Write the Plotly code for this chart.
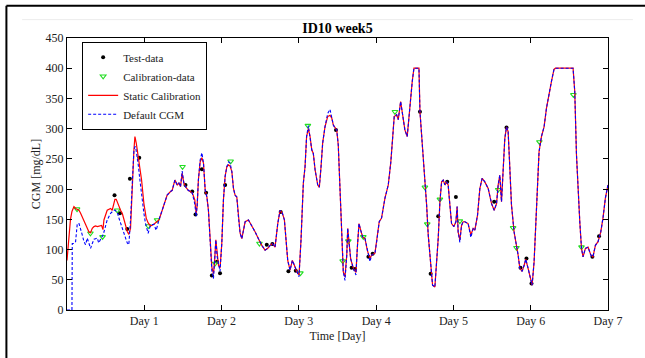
import plotly.graph_objects as go

# ---- data ----
time_days = [
    0, 0.012, 0.026, 0.045, 0.064, 0.068, 0.09, 0.111, 0.133, 0.155, 0.176, 0.198, 0.22, 0.24,
    0.262, 0.284, 0.305, 0.327, 0.349, 0.37, 0.392, 0.41, 0.447, 0.465, 0.478, 0.52, 0.564,
    0.585, 0.607, 0.62, 0.637, 0.65, 0.672, 0.693, 0.715, 0.736, 0.758, 0.78, 0.792, 0.80,
    0.822, 0.835, 0.844, 0.853, 0.866, 0.879, 0.887, 0.896, 0.909, 0.922, 0.939, 0.965, 0.995,
    1.016, 1.025, 1.05, 1.068, 1.081, 1.124, 1.154, 1.19,
    1.232, 1.296, 1.34, 1.361, 1.396, 1.426, 1.448, 1.469, 1.49, 1.512, 1.533, 1.568, 1.62,
    1.654, 1.671, 1.684, 1.70, 1.723, 1.745, 1.766, 1.788, 1.81, 1.83, 1.852, 1.874, 1.895,
    1.908, 1.926, 1.943, 1.96, 1.98, 2.003, 2.024, 2.046, 2.068, 2.09, 2.11, 2.133, 2.154,
    2.175, 2.197, 2.218, 2.24, 2.262, 2.283, 2.305, 2.348, 2.392, 2.435, 2.477, 2.52, 2.563,
    2.598, 2.628, 2.657, 2.692, 2.727, 2.757, 2.787, 2.813, 2.83, 2.856, 2.886, 2.916, 2.942,
    2.973, 3.002, 3.028, 3.058, 3.08, 3.10, 3.123, 3.145, 3.167, 3.187, 3.21, 3.244, 3.265,
    3.287, 3.308, 3.338, 3.373, 3.403, 3.425, 3.446, 3.468, 3.49, 3.51, 3.532, 3.554, 3.575,
    3.597, 3.62, 3.632, 3.649, 3.67, 3.705, 3.739, 3.756, 3.778, 3.80, 3.825, 3.856, 3.885,
    3.92, 3.942, 3.985, 4.007, 4.04, 4.07, 4.114, 4.157, 4.19, 4.213, 4.234, 4.265, 4.286,
    4.317, 4.343, 4.372, 4.402, 4.424, 4.446, 4.467, 4.489, 4.532, 4.554, 4.567, 4.601, 4.631,
    4.653, 4.674, 4.705, 4.73, 4.76, 4.782, 4.803, 4.825, 4.847, 4.868, 4.89, 4.911, 4.932,
    4.954, 4.976, 5.006, 5.032, 5.048, 5.061, 5.083, 5.105, 5.126, 5.148, 5.19, 5.226, 5.255,
    5.277, 5.312, 5.342, 5.372, 5.406, 5.45, 5.493, 5.527, 5.558, 5.579, 5.60, 5.622, 5.643,
    5.665, 5.687, 5.708, 5.73, 5.751, 5.785, 5.816, 5.837, 5.859, 5.889, 5.915, 5.936, 5.966,
    5.988, 6.018, 6.044, 6.066, 6.087, 6.108, 6.139, 6.173, 6.204, 6.233, 6.268, 6.301, 6.32,
    6.548, 6.57, 6.592, 6.613, 6.635, 6.657, 6.677, 6.708, 6.742, 6.777, 6.806, 6.837, 6.871,
    6.906, 6.935, 6.966, 7.0,
]

static_calibration = [
    82, 105, 121, 150, 163, 165, 171, 168, 167, 165, 160, 154, 148, 143,
    136, 129, 128, 135, 138, 139, 138, 139, 140, 133, 149, 165, 168,
    165, 178, 183, 183, 178, 171, 165, 160, 150, 138, 130, 127, 125,
    135, 182, 210, 237, 265, 287, 283, 276, 265, 254, 245, 215, 176,
    158, 152, 144, 140, 139, 142, 145, 149,
    165, 190, 196, 198, 215, 207, 210, 204, 226, 210, 204, 198, 194,
    182, 160, 172, 215, 245, 252, 243, 198, 187, 165, 116, 71, 60,
    77, 116, 88, 74, 69, 110, 182, 221, 237, 240, 238, 229, 201,
    190, 187, 154, 127, 118, 135, 146, 149, 140, 129, 118, 107, 99,
    102, 107, 110, 104, 143, 165, 160, 149, 116, 82, 66, 82, 74,
    63, 58, 116, 210, 237, 287, 300, 287, 265, 259, 232, 207, 203,
    237, 276, 303, 320, 322, 318, 306, 301, 298, 273, 201, 113, 63,
    55, 91, 135, 113, 85, 69, 62, 102, 143, 132, 121, 118, 99,
    85, 91, 94, 113, 146, 152, 185, 207, 245, 284, 320, 323, 315,
    345, 323, 298, 287, 323, 351, 378, 400, 400, 400, 328, 268, 223,
    174, 124, 80, 41, 38, 80, 118, 179, 212, 215, 207, 212, 207,
    174, 143, 138, 146, 171, 129, 116, 140, 146, 146, 143, 124, 135,
    132, 157, 201, 218, 212, 201, 176, 165, 176, 207, 223, 179, 234,
    284, 303, 295, 234, 174, 129, 110, 91, 69, 64, 74, 84, 69,
    55, 41, 80, 146, 212, 262, 287, 303, 334, 356, 378, 398, 400,
    400, 361, 257, 190, 146, 102, 88, 102, 104, 91, 88, 107, 113,
    129, 152, 185, 207,
]

default_cgm = [
    0, 0, 0, 0, 0, 110, 110, 113, 143, 143, 135, 124, 113, 108,
    119, 110, 102, 110, 117, 118, 119, 111, 119, 124, 129, 149, 160,
    163, 165, 165, 164, 162, 152, 143, 135, 127, 119, 111, 109, 108,
    149, 190, 215, 240, 265, 270, 270, 263, 254, 240, 220, 188, 160,
    143, 138, 127, 135, 140, 142, 132, 149,
    165, 190, 196, 198, 215, 207, 210, 204, 230, 210, 204, 198, 194,
    175, 155, 172, 215, 248, 260, 243, 198, 187, 165, 116, 65, 52,
    77, 116, 88, 74, 64, 110, 182, 221, 237, 245, 243, 229, 201,
    190, 187, 154, 127, 118, 135, 146, 149, 140, 129, 118, 107, 99,
    102, 107, 110, 104, 143, 165, 160, 149, 116, 82, 66, 82, 74,
    63, 55, 116, 210, 237, 287, 305, 287, 265, 259, 232, 207, 203,
    237, 276, 303, 325, 332, 318, 306, 301, 298, 273, 201, 113, 63,
    49, 91, 135, 113, 85, 69, 58, 102, 143, 132, 121, 118, 99,
    80, 91, 94, 113, 146, 152, 185, 207, 245, 284, 320, 323, 315,
    345, 323, 298, 287, 323, 351, 378, 400, 400, 400, 328, 268, 223,
    174, 124, 80, 41, 38, 80, 118, 179, 212, 215, 207, 212, 207,
    174, 143, 138, 146, 171, 129, 112, 140, 146, 146, 143, 120, 135,
    132, 157, 201, 218, 212, 201, 176, 165, 176, 207, 223, 179, 234,
    284, 303, 295, 234, 174, 129, 110, 91, 69, 64, 74, 84, 69,
    55, 41, 80, 146, 212, 262, 287, 303, 334, 356, 378, 398, 400,
    400, 361, 257, 190, 146, 102, 88, 102, 104, 91, 88, 107, 113,
    129, 152, 185, 207,
]

test_days = [0.615, 0.685, 0.78, 0.814, 0.86, 0.935, 1.533, 1.62, 1.663, 1.745, 1.80, 1.874,
             1.94, 1.98, 2.046, 2.585, 2.657, 2.765, 2.865, 2.96, 3.48, 3.683, 3.726, 3.90,
             3.955, 4.567, 4.705, 4.803, 4.92, 5.032, 5.527, 5.687, 5.868, 5.945, 6.01,
             6.798, 6.884]
test_values = [190, 160, 134, 217, 308, 252, 207, 196, 158, 233, 194, 57,
               80, 61, 207, 108, 109, 162, 64, 65, 298, 70, 68, 88,
               93, 328, 60, 155, 212, 187, 179, 302, 70, 85, 44,
               88, 122]

calib_days = [0.13, 0.303, 0.46, 0.65, 1.052, 1.165, 1.495, 1.917, 2.117, 2.49, 3.02, 3.117,
              3.567, 3.64, 3.834, 4.243, 4.631, 4.661, 4.825, 5.083, 5.579, 5.772, 5.816,
              6.112, 6.552, 6.657]
calib_values = [167, 127, 121, 165, 139, 149, 237, 77, 246, 110, 61, 305,
                81, 114, 121, 328, 203, 142, 183, 147, 199, 136, 103,
                278, 356, 104]

day_ticks = [1, 2, 3, 4, 5, 6, 7]
day_labels = ["Day 1", "Day 2", "Day 3", "Day 4", "Day 5", "Day 6", "Day 7"]
y_ticks = [0, 50, 100, 150, 200, 250, 300, 350, 400, 450]

FONT = "Liberation Serif, Times New Roman, serif"

fig = go.Figure()
fig.add_trace(go.Scatter(x=test_days, y=test_values, mode="markers", name="Test-data",
                         marker=dict(color="black", size=4, symbol="circle")))
fig.add_trace(go.Scatter(x=calib_days, y=calib_values, mode="markers", name="Calibration-data",
                         marker=dict(color="#22dd22", size=5, symbol="triangle-down-open",
                                     line=dict(width=1.1))))
fig.add_trace(go.Scatter(x=time_days, y=static_calibration, mode="lines", name="Static Calibration",
                         line=dict(color="red", width=1.2)))
fig.add_trace(go.Scatter(x=time_days, y=default_cgm, mode="lines", name="Default CGM",
                         line=dict(color="blue", width=1.1, dash="3px,2px")))

axis_common = dict(showgrid=False, zeroline=False, showline=True, linecolor="black",
                   linewidth=1, mirror="ticks", ticks="inside", ticklen=5, tickcolor="black",
                   tickfont=dict(family=FONT, size=12, color="#222"))

fig.update_xaxes(range=[0, 7], tickvals=day_ticks, ticktext=day_labels,
                 title=dict(text="Time [Day]", font=dict(family=FONT, size=12, color="#222"),
                            standoff=4),
                 **axis_common)
fig.update_yaxes(range=[0, 450], tickvals=y_ticks,
                 title=dict(text="CGM [mg/dL]", font=dict(family=FONT, size=12, color="#222"),
                            standoff=2),
                 **axis_common)

# screenshot frame lines
fig.add_shape(type="line", xref="paper", yref="paper", x0=-0.112, x1=1.2, y0=1.119, y1=1.119,
              line=dict(color="black", width=2))
fig.add_shape(type="line", xref="paper", yref="paper", x0=-0.112, x1=-0.112, y0=1.119, y1=-0.2,
              line=dict(color="black", width=2))
fig.add_shape(type="line", xref="paper", yref="paper", x0=-0.083, x1=1.046, y0=1.0675, y1=1.0675,
              line=dict(color="#ececec", width=1))

fig.update_layout(
    width=645, height=358,
    margin=dict(l=67, r=37, t=38, b=48),
    paper_bgcolor="white", plot_bgcolor="white",
    font=dict(family=FONT, size=12, color="#222"),
    title=dict(text="<b>ID10 week5</b>", x=0.5232, xanchor="center", xref="container",
               y=1 - 28 / 358, yref="container", yanchor="middle",
               font=dict(family=FONT, size=14, color="black")),
    showlegend=True,
    legend=dict(x=0.028, y=0.986, xanchor="left", yanchor="top", bgcolor="white",
                bordercolor="black", borderwidth=1, font=dict(family=FONT, size=11, color="#222"),
                itemwidth=30, tracegroupgap=0),
)

fig.write_html("out.html")
